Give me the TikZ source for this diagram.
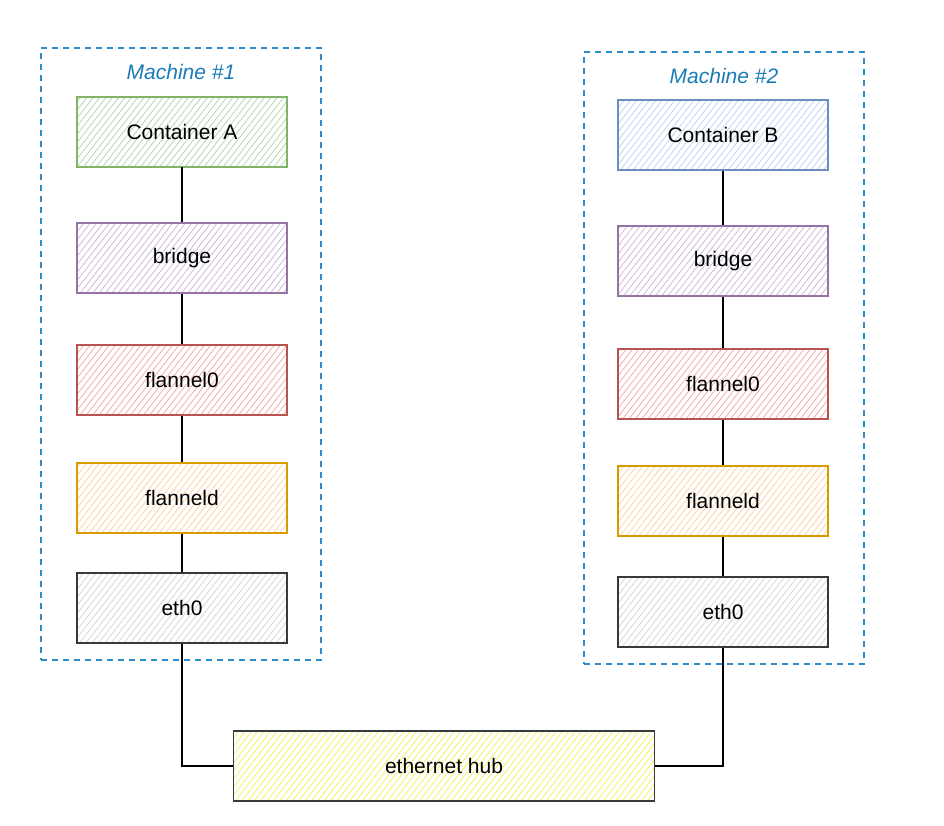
\documentclass[tikz,border=0pt]{standalone}
\usepackage{fontspec}
\setmainfont{Liberation Sans}
\usetikzlibrary{patterns.meta}
\definecolor{gS}{HTML}{82B366}\definecolor{gF}{HTML}{B3D6AD}
\definecolor{pS}{HTML}{9673A6}\definecolor{pF}{HTML}{CDBAD8}
\definecolor{rS}{HTML}{B85450}\definecolor{rF}{HTML}{F2ACA9}
\definecolor{oS}{HTML}{D79B00}\definecolor{oF}{HTML}{FFD2A0}
\definecolor{kS}{HTML}{36393D}\definecolor{kF}{HTML}{D6D6D6}
\definecolor{bS}{HTML}{6C8EBF}\definecolor{bF}{HTML}{BCD4F3}
\definecolor{yF}{HTML}{F2F260}
\definecolor{mach}{HTML}{1A7BB9}
\definecolor{dash}{HTML}{2D8BC9}
\tikzset{
  hatch/.style={pattern={Lines[angle=52,distance=5pt,line width=0.8pt]}, pattern color=#1},
  layer/.style={draw=#1S, line width=1.6pt, minimum width=210pt, minimum height=70pt,
    hatch=#1F, font=\fontsize{21}{24}\selectfont, inner sep=0pt},
  machine/.style={draw=dash, dashed, dash pattern=on 6pt off 5pt, line width=1.4pt},
  machlabel/.style={text=mach, font=\fontsize{21}{24}\selectfont\itshape},
  wire/.style={draw=black, line width=1.6pt},
}
\begin{document}
\begin{tikzpicture}[x=1pt,y=-1pt]
\useasboundingbox (0,0) rectangle (944,826);
% machine frames
\node[machine, minimum width=280pt, minimum height=612pt, inner sep=0pt] (m1) at (181,354) {};
\node[machine, minimum width=280pt, minimum height=612pt, inner sep=0pt] (m2) at (724,358) {};
\node[machlabel] (m1l) at (181,72) {Machine \#1};
\node[machlabel] (m2l) at (724,76) {Machine \#2};
% left stack
\node[layer=g] (ca) at (182,132) {Container A};
\node[layer=p] (b1) at (182,258) {bridge};
\node[layer=r] (f1) at (182,380) {flannel0};
\node[layer=o] (d1) at (182,498) {flanneld};
\node[layer=k] (e1) at (182,608) {eth0};
% right stack
\node[layer=b] (cb) at (723,135) {Container B};
\node[layer=p] (b2) at (723,261) {bridge};
\node[layer=r] (f2) at (723,384) {flannel0};
\node[layer=o] (d2) at (723,501) {flanneld};
\node[layer=k] (e2) at (723,612) {eth0};
% hub
\node[draw=kS, line width=1.6pt, minimum width=421pt, minimum height=70pt,
  hatch=yF, font=\fontsize{21}{24}\selectfont, inner sep=0pt] (hub) at (444,766) {ethernet hub};
% wires
\draw[wire] (ca) -- (b1);
\draw[wire] (b1) -- (f1);
\draw[wire] (f1) -- (d1);
\draw[wire] (d1) -- (e1);
\draw[wire] (cb) -- (b2);
\draw[wire] (b2) -- (f2);
\draw[wire] (f2) -- (d2);
\draw[wire] (d2) -- (e2);
\draw[wire] (e1.south) |- (hub.west);
\draw[wire] (e2.south) |- (hub.east);
\end{tikzpicture}
\end{document}
